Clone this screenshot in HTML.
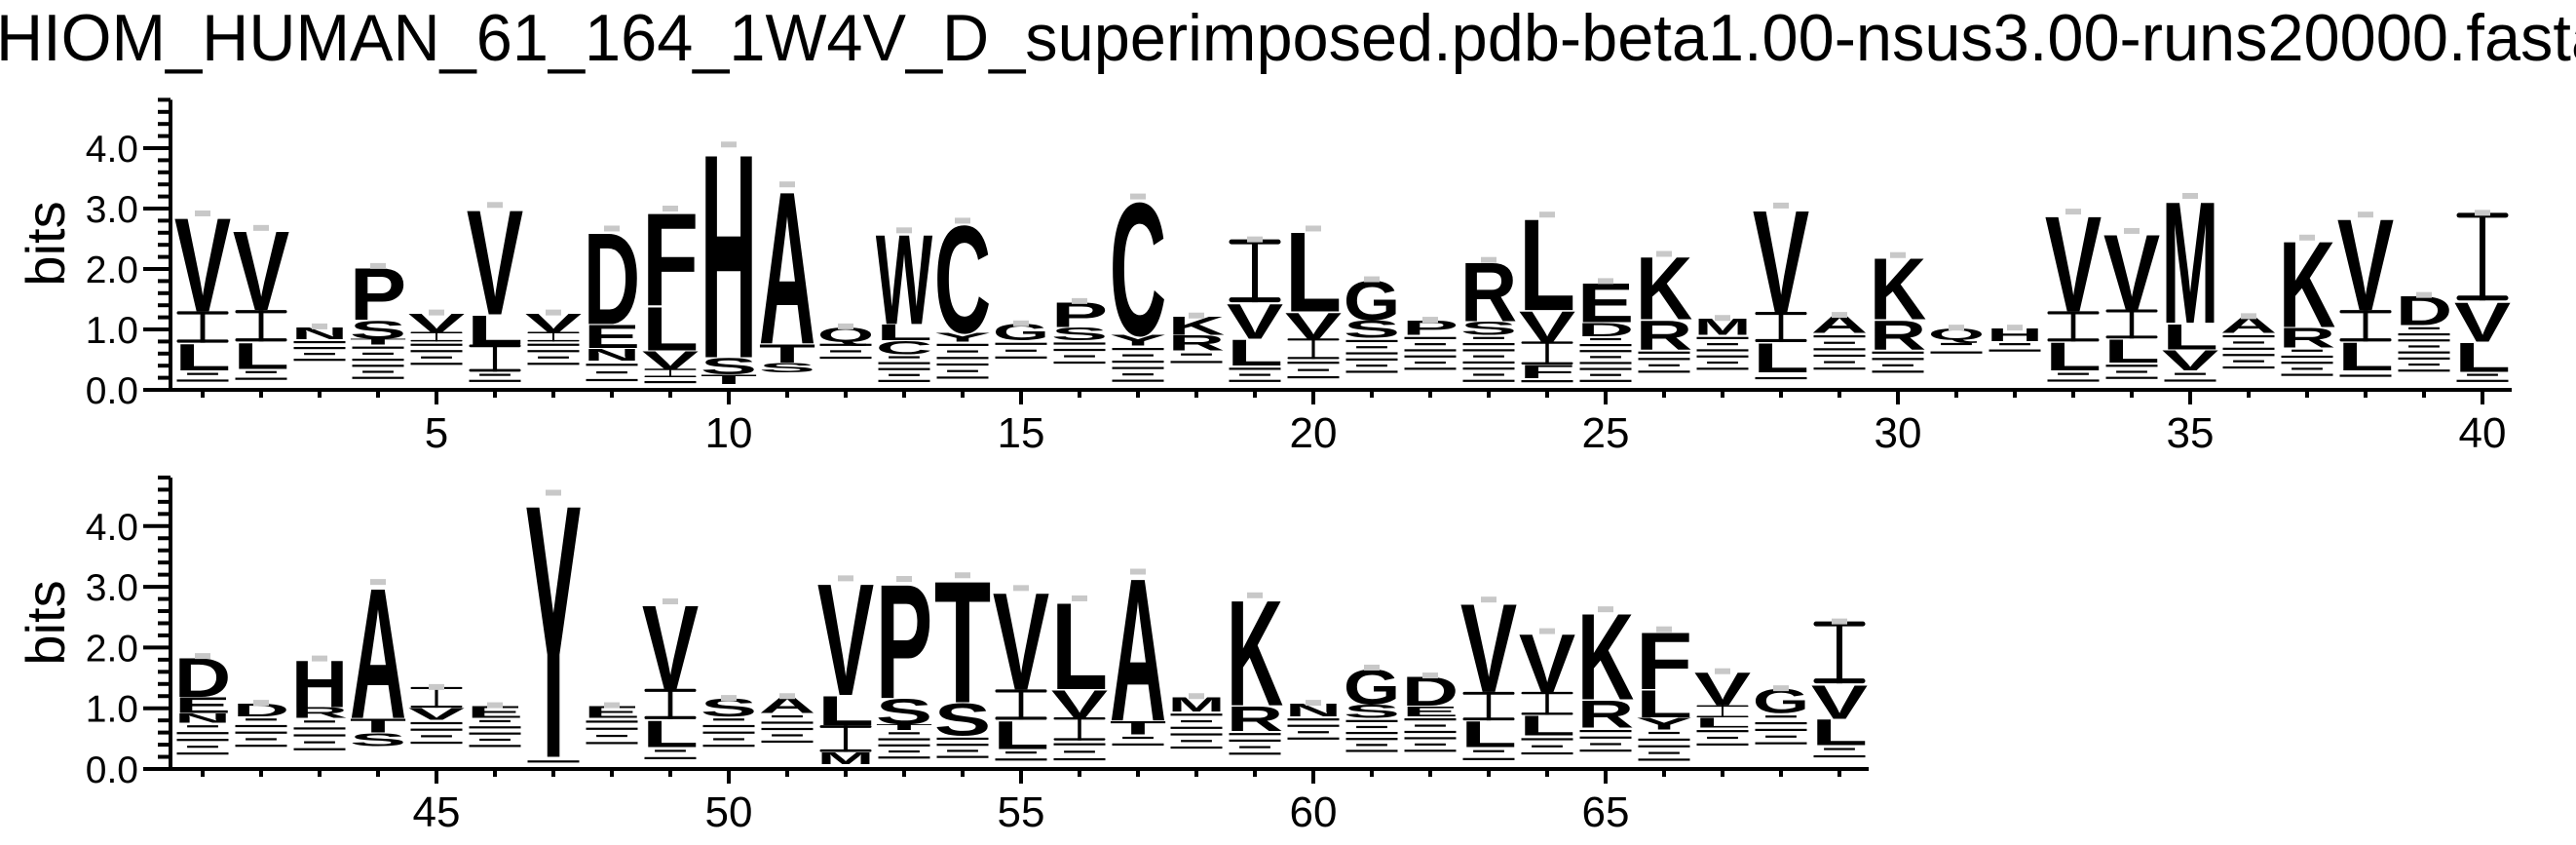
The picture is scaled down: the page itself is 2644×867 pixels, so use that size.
<!DOCTYPE html>
<html><head><meta charset="utf-8">
<style>
html,body{margin:0;padding:0;background:#fff;}
svg{display:block;}
text{font-family:"Liberation Sans",sans-serif;}
</style></head>
<body>
<svg id="chart" width="2644" height="867" viewBox="0 0 2644 867" xmlns="http://www.w3.org/2000/svg">
<rect width="2644" height="867" fill="#fff"/>
<text x="-4" y="62" font-size="68" textLength="2680" lengthAdjust="spacingAndGlyphs">HIOM_HUMAN_61_164_1W4V_D_superimposed.pdb-beta1.00-nsus3.00-runs20000.fasta</text>
<g id="panels"></g>
</svg>
<script>
// Sequence positions 1..69; each stack: base bits, then "letter:height" bottom->top; "~" = many tiny residues
const positions = Array.from({length:69},(_,i)=>i+1);
const bases = [
0.10,0.13,0.45,0.15,0.38,0.10,0.38,0.10,0.05,0.10,0.29,0.48,0.10,0.15,0.48,0.40,0.10,0.40,0.10,0.15,
0.25,0.30,0.10,0.10,0.10,0.25,0.30,0.10,0.30,0.25,0.55,0.60,0.10,0.15,0.10,0.32,0.20,0.15,0.27,0.10,
0.20,0.33,0.27,0.38,0.38,0.33,0.05,0.37,0.12,0.33,0.40,0.08,0.14,0.15,0.10,0.10,0.35,0.30,0.20,0.45,
0.25,0.25,0.10,0.20,0.25,0.10,0.35,0.37,0.15];
const stacks = [
"~:0.22,L:0.46,I:0.52,V:1.62","~:0.22,L:0.45,I:0.52,V:1.36","~:0.39,N:0.21","~:0.60,T:0.10,S:0.31,P:0.89",
"~:0.42,I:0.16,V:0.32","~:0.20,I:0.45,L:0.50,V:1.81","~:0.42,I:0.16,V:0.32","~:0.38,N:0.21,E:0.40,D:1.58",
"~:0.16,I:0.14,V:0.30,L:0.75,F:1.60","T:0.16,S:0.28,H:3.52","S:0.16,T:0.32,A:2.63","~:0.32,Q:0.25",
"~:0.49,C:0.23,L:0.27,W:1.55","~:0.65,Y:0.15,C:1.85","~:0.34,G:0.28","~:0.42,S:0.22,P:0.43",
"~:0.63,Y:0.18,C:2.29","~:0.25,R:0.26,K:0.32","~:0.30,L:0.45,V:0.60,I:1.04","~:0.36,I:0.34,V:0.45,L:1.37",
"~:0.61,S:0.29,G:0.68","~:0.61,P:0.25","~:0.81,S:0.23,R:1.01","~:0.09,F:0.23,I:0.38,V:0.52,L:1.58",
"~:0.79,D:0.23,E:0.68","~:0.42,R:0.50,K:1.08","~:0.61,M:0.28","~:0.19,L:0.50,I:0.50,V:1.76",
"~:0.64,A:0.30","~:0.42,R:0.50,K:1.06","~:0.28,Q:0.20","~:0.21,H:0.22",
"~:0.22,L:0.48,I:0.50,V:1.65","~:0.30,L:0.40,I:0.48,V:1.30","~:0.22,V:0.35,L:0.44,M:2.10","~:0.62,A:0.28",
"~:0.50,R:0.34,K:1.48","~:0.17,L:0.48,I:0.52,V:1.58","~:0.80,D:0.50","~:0.20,L:0.50,V:0.68,I:1.45",
"~:0.56,N:0.16,E:0.27,D:0.67","~:0.54,D:0.22","~:0.57,R:0.18,H:0.80","S:0.22,T:0.24,A:2.24",
"~:0.43,V:0.20,I:0.34","~:0.51,E:0.21","~:0.15,Y:4.35","~:0.47,E:0.21",
"~:0.24,L:0.46,I:0.50,V:1.44","~:0.54,S:0.30","~:0.52,A:0.28","M:0.20,I:0.44,L:0.50,V:1.92",
"~:0.50,T:0.10,S:0.43,P:1.96","~:0.40,S:0.55,T:2.09","~:0.23,L:0.48,I:0.50,V:1.67","~:0.37,I:0.38,V:0.47,L:1.49",
"~:0.22,T:0.23,A:2.45","~:0.65,M:0.25","~:0.43,R:0.42,K:1.81","~:0.42,N:0.22",
"~:0.59,S:0.23,G:0.60","~:0.62,E:0.17,D:0.50","~:0.26,L:0.44,I:0.47,V:1.52","~:0.35,L:0.34,I:0.38,V:1.00",
"~:0.43,R:0.47,K:1.48","~:0.55,Y:0.20,L:0.47,F:0.98","~:0.33,L:0.17,I:0.20,V:0.56","~:0.55,G:0.41",
"~:0.24,L:0.44,V:0.58,I:1.02"];
const yTickLabels = ["0.0","1.0","2.0","3.0","4.0"];
const xTickLabelsTop = [5,10,15,20,25,30,35,40];
const xTickLabelsBottom = [45,50,55,60,65];

const NS="http://www.w3.org/2000/svg";
const root=document.getElementById('panels');
function mk(tag,attrs,parent){const e=document.createElementNS(NS,tag);for(const k in attrs)e.setAttribute(k,attrs[k]);(parent||root).appendChild(e);return e;}

const panels=[{first:1,last:40,y0:400,ppb:62,axisEnd:2578,labels:xTickLabelsTop},
              {first:41,last:69,y0:789,ppb:62.3,axisEnd:1918,labels:xTickLabelsBottom}];
const X0=208, STEP=60, COLW=53;

panels.forEach((p,pi)=>{
  const g=mk('g',{});
  
  
  const xOf=pos=>X0+(pos-p.first)*STEP;
  const yOf=b=>p.y0-b*p.ppb;
  const ya=mk('line',{x1:175,y1:yOf(4.8),x2:175,y2:p.y0+2,stroke:'#000','stroke-width':4},g);
  
  
  for(let i=0;i<=24;i++){
    const b=i*0.2, major=(i%5===0);
    const t=mk('line',{x1:major?147:162,x2:175,y1:yOf(b),y2:yOf(b),stroke:'#000','stroke-width':4},g);
    
    
  }
  yTickLabels.forEach((lab,i)=>{
    const t=mk('text',{x:142,y:yOf(parseFloat(lab))+14,'font-size':39,'text-anchor':'end'},g);
    t.textContent=lab;
    
    
  });
  const yt=mk('text',{transform:`translate(66,${p.y0-150}) rotate(-90)`,'font-size':56,'text-anchor':'middle'},g);
  yt.textContent='bits';
  
  
  const xa=mk('line',{x1:147,x2:p.axisEnd,y1:p.y0,y2:p.y0,stroke:'#000','stroke-width':4},g);
  
  
  for(let pos=p.first;pos<=p.last;pos++){
    const major=(pos%5===0);
    const t=mk('line',{x1:xOf(pos),x2:xOf(pos),y1:p.y0,y2:p.y0+(major?15:8),stroke:'#000','stroke-width':4},g);
    
    
  }
  p.labels.forEach(v=>{
    const t=mk('text',{x:xOf(v),y:p.y0+59,'font-size':44,'text-anchor':'middle'},g);
    t.textContent=String(v);
    
    
  });
  for(let pos=p.first;pos<=p.last;pos++){
    const idx=positions.indexOf(pos);
    const col=mk('g',{},g);
    
    
    const cx=xOf(pos), left=cx-COLW/2;
    let b=bases[idx];
    stacks[idx].split(',').forEach(item=>{
      const [L,hs]=item.split(':'); const h=parseFloat(hs);
      const yb=yOf(b), yt2=yOf(b+h), hp=yb-yt2;
      if(L==='~'){
        const n=Math.max(1,Math.floor(hp/6));
        for(let k=0;k<n;k++){
          const yy=yb-(k+0.5)*hp/n;
          const w=(k%3===1)?COLW*0.6:COLW;
          const s=mk('rect',{x:cx-w/2,y:yy-1,width:w,height:2.2,fill:'#000'},col);
          
          
        }
      } else if(L==='I'){
        const ig=mk('g',{},col);
        
        
        const bh=Math.max(1.5,Math.min(5,hp*0.1));
        const sw=Math.max(2,Math.min(6,hp*0.15));
        mk('rect',{x:left,y:yt2,width:COLW,height:bh,rx:bh/2,fill:'#000'},ig);
        mk('rect',{x:left,y:yb-bh,width:COLW,height:bh,rx:bh/2,fill:'#000'},ig);
        mk('rect',{x:cx-sw/2,y:yt2,width:sw,height:hp,fill:'#000'},ig);
      } else {
        const sy=hp/72.9;
        const t=mk('text',{x:0,y:0,'font-size':100,'font-weight':'bold',textLength:COLW*1.1,lengthAdjust:'spacingAndGlyphs',
          transform:`translate(${left-COLW*0.05},${yb}) scale(1,${sy})`},col);
        t.textContent=L;
        
        
      }
      b+=h;
    });
    const eb=mk('rect',{x:cx-8,y:yOf(b)-3,width:16,height:6,fill:'#c8c8c8'},col);
    
    
  }
});
</script>
</body></html>
